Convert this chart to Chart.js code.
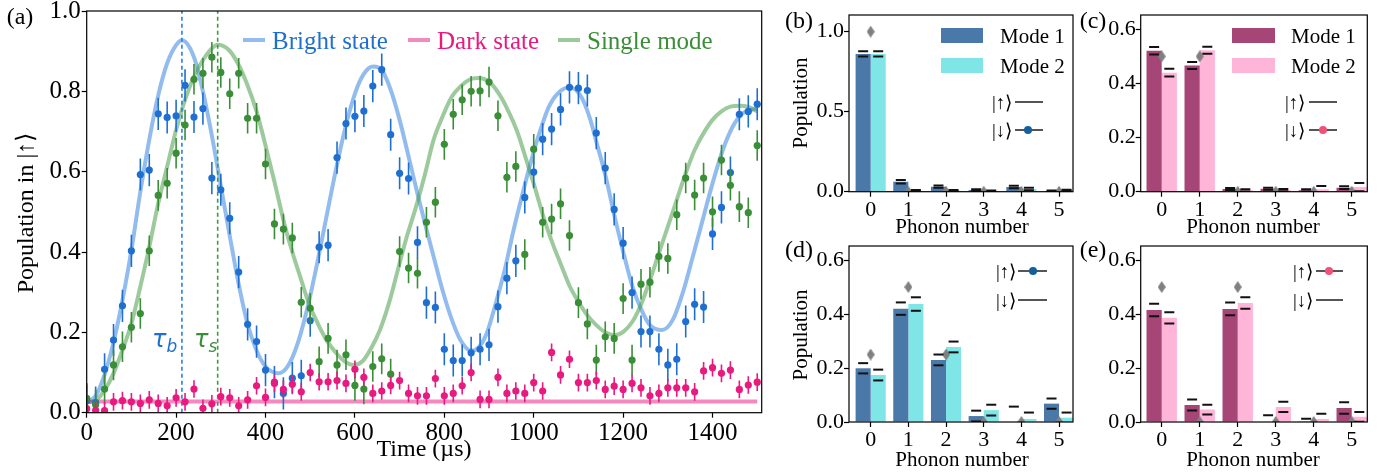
<!DOCTYPE html>
<html>
<head>
<meta charset="utf-8">
<script src="https://cdn.jsdelivr.net/npm/chart.js@4.4.1/dist/chart.umd.min.js"></script>
<style>
  html, body { margin: 0; padding: 0; background: #fff; }
  body { position: relative; width: 1382px; height: 472px; overflow: hidden; font-family: "Liberation Serif", "Times New Roman", serif; color: #000; }
  canvas { position: absolute; }
  .c { position: absolute; white-space: nowrap; line-height: 1; transform: translate(-50%, -50%); }
  .rot { transform: translate(-50%, -50%) rotate(-90deg); }
  .l { position: absolute; white-space: nowrap; line-height: 1; transform: translateY(-50%); }
  .sw { position: absolute; }
  .dot { position: absolute; width: 8px; height: 8px; border-radius: 50%; transform: translate(-50%, -50%); }
  .tau { position: absolute; white-space: nowrap; line-height: 1; font: italic 24px "DejaVu Sans", sans-serif; }
  .tau span { font-size: 17px; position: relative; top: 5px; }
  .lv { font-size: 19px; }
</style>
</head>
<body>
<canvas id="panelA"></canvas>
<canvas id="panelB"></canvas>
<canvas id="panelC"></canvas>
<canvas id="panelD"></canvas>
<canvas id="panelE"></canvas>

<!-- panel letters -->
<div class="c" style="left:20px;top:16px;font-size:24px">(a)</div>
<div class="c" style="left:799px;top:20px;font-size:24px">(b)</div>
<div class="c" style="left:1093px;top:20px;font-size:24px">(c)</div>
<div class="c" style="left:799px;top:249px;font-size:24px">(d)</div>
<div class="c" style="left:1093px;top:249px;font-size:24px">(e)</div>

<!-- axis titles -->
<div class="c rot" style="left:25px;top:213px;font-size:24px">Population in |↑⟩</div>
<div class="c" style="left:424px;top:448px;font-size:24px">Time (µs)</div>
<div class="c rot" style="left:800px;top:103px;font-size:21px">Population</div>
<div class="c rot" style="left:800px;top:335px;font-size:21px">Population</div>
<div class="c" style="left:962px;top:226px;font-size:21px">Phonon number</div>
<div class="c" style="left:1253px;top:226px;font-size:21px">Phonon number</div>
<div class="c" style="left:962px;top:459px;font-size:21px">Phonon number</div>
<div class="c" style="left:1253px;top:459px;font-size:21px">Phonon number</div>

<!-- tau markers -->
<div class="tau" style="left:152px;top:325px;color:#1f6fd1">τ<span>b</span></div>
<div class="tau" style="left:194px;top:325px;color:#3a8e37">τ<span>s</span></div>

<!-- legend (a) -->
<div class="sw" style="left:243px;top:37.5px;width:22px;height:4px;background:rgba(74,144,226,0.6)"></div>
<div class="l" style="left:272px;top:40px;font-size:25px;color:#1f6fd1">Bright state</div>
<div class="sw" style="left:408px;top:37.5px;width:22px;height:4px;background:rgba(235,40,140,0.55)"></div>
<div class="l" style="left:437px;top:40px;font-size:25px;color:#e8197f">Dark state</div>
<div class="sw" style="left:558px;top:37.5px;width:22px;height:4px;background:rgba(60,150,60,0.5)"></div>
<div class="l" style="left:587px;top:40px;font-size:25px;color:#3a8e37">Single mode</div>

<!-- legend (b) -->
<div class="sw" style="left:941px;top:28.3px;width:42.3px;height:14.4px;background:#4a78a9"></div>
<div class="l" style="left:1000px;top:36px;font-size:21px">Mode 1</div>
<div class="sw" style="left:941px;top:58.3px;width:42.3px;height:14.4px;background:#7fe5e6"></div>
<div class="l" style="left:1000px;top:66px;font-size:21px">Mode 2</div>

<!-- legend (c) -->
<div class="sw" style="left:1231.7px;top:28.3px;width:43.3px;height:14.4px;background:#a54677"></div>
<div class="l" style="left:1291px;top:36px;font-size:21px">Mode 1</div>
<div class="sw" style="left:1231.7px;top:58.3px;width:43.3px;height:14.4px;background:#ffb5d8"></div>
<div class="l" style="left:1291px;top:66px;font-size:21px">Mode 2</div>

<!-- level diagrams -->
<div class="l lv" style="left:992px;top:101.5px">|↑⟩</div>
<div class="sw" style="left:1015px;top:100.7px;width:28px;height:2px;background:#555"></div>
<div class="l lv" style="left:992px;top:130px">|↓⟩</div>
<div class="sw" style="left:1015px;top:129px;width:28px;height:2px;background:#555"></div>
<div class="dot" style="left:1028.3px;top:130px;background:#12609e"></div>

<div class="l lv" style="left:1285px;top:101.5px">|↑⟩</div>
<div class="sw" style="left:1309px;top:100.7px;width:28px;height:2px;background:#555"></div>
<div class="l lv" style="left:1285px;top:130px">|↓⟩</div>
<div class="sw" style="left:1309px;top:129px;width:28px;height:2px;background:#555"></div>
<div class="dot" style="left:1323.3px;top:130px;background:#f35078"></div>

<div class="l lv" style="left:996px;top:271px">|↑⟩</div>
<div class="sw" style="left:1018.3px;top:270px;width:28.4px;height:2px;background:#555"></div>
<div class="dot" style="left:1033.3px;top:271px;background:#12609e"></div>
<div class="l lv" style="left:996px;top:300px">|↓⟩</div>
<div class="sw" style="left:1018.3px;top:299px;width:28.4px;height:2px;background:#555"></div>

<div class="l lv" style="left:1293px;top:271px">|↑⟩</div>
<div class="sw" style="left:1316px;top:270px;width:27.3px;height:2px;background:#555"></div>
<div class="dot" style="left:1329.3px;top:271px;background:#f35078"></div>
<div class="l lv" style="left:1293px;top:300px">|↓⟩</div>
<div class="sw" style="left:1316px;top:299px;width:27.3px;height:2px;background:#555"></div>

<script>
  // ---------- panel (a) data ----------
  const timeUs = [0, 20, 40, 60, 80, 100, 120, 140, 160, 180, 200, 220, 240, 260, 280, 300, 320, 340, 360, 380,
    400, 420, 440, 460, 480, 500, 520, 540, 560, 580, 600, 620, 640, 660, 680, 700, 720, 740, 760, 780,
    800, 820, 840, 860, 880, 900, 920, 940, 960, 980, 1000, 1020, 1040, 1060, 1080, 1100, 1120, 1140, 1160, 1180,
    1200, 1220, 1240, 1260, 1280, 1300, 1320, 1340, 1360, 1380, 1400, 1420, 1440, 1460, 1480, 1500];

  const brightPop = [0.03, 0.025, 0.108, 0.181, 0.266, 0.403, 0.593, 0.604, 0.744, 0.735, 0.739, 0.815, 0.736, 0.757, 0.584, 0.555, 0.484, 0.35, 0.22, 0.177,
    0.106, 0.076, 0.048, 0.086, 0.092, 0.229, 0.412, 0.417, 0.635, 0.72, 0.738, 0.751, 0.813, 0.854, 0.692, 0.596, 0.583, 0.424, 0.274, 0.262,
    0.158, 0.13, 0.13, 0.149, 0.158, 0.169, 0.264, 0.335, 0.378, 0.536, 0.599, 0.681, 0.706, 0.755, 0.81, 0.808, 0.802, 0.696, 0.609, 0.506,
    0.422, 0.299, 0.202, 0.202, 0.158, 0.119, 0.133, 0.227, 0.27, 0.263, 0.445, 0.511, 0.598, 0.743, 0.75, 0.768];

  const singlePop = [0.036, 0.02, 0.059, 0.119, 0.164, 0.2125, 0.247, 0.403, 0.541, 0.571, 0.646, 0.716, 0.83, 0.845, 0.885, 0.847, 0.794, 0.845, 0.733, 0.733,
    0.619, 0.47, 0.457, 0.435, 0.275, 0.26, 0.127, 0.185, 0.119, 0.144, 0.068, 0.059, 0.115, 0.134, 0.096, 0.401, 0.36, 0.347, 0.474, 0.524,
    0.668, 0.743, 0.779, 0.8, 0.801, 0.823, 0.739, 0.586, 0.613, 0.394, 0.656, 0.474, 0.482, 0.52, 0.441, 0.274, 0.221, 0.131, 0.189, 0.185,
    0.284, 0.131, 0.32, 0.325, 0.389, 0.384, 0.493, 0.584, 0.542, 0.584, 0.5, 0.629, 0.566, 0.513, 0.498, 0.665];

  const darkPop = [0.01, 0.006, 0.005, 0.027, 0.03, 0.027, 0.023, 0.032, 0.023, 0.017, 0.037, 0.027, 0.059, 0.011, 0.022, 0.04, 0.037, 0.017, 0.032, 0.067,
    0.038, 0.073, 0.058, 0.071, 0.052, 0.1, 0.077, 0.077, 0.08, 0.073, 0.108, 0.088, 0.048, 0.054, 0.068, 0.08, 0.048, 0.042, 0.042, 0.085,
    0.042, 0.048, 0.067, 0.1, 0.033, 0.033, 0.088, 0.048, 0.054, 0.048, 0.075, 0.054, 0.15, 0.094, 0.133, 0.075, 0.075, 0.08, 0.058, 0.066,
    0.058, 0.073, 0.062, 0.042, 0.048, 0.062, 0.062, 0.062, 0.052, 0.104, 0.112, 0.098, 0.106, 0.058, 0.069, 0.076];

  const brightErr = 0.04;
  const singleErr = 0.038;
  const darkErr = 0.022;

  // fitted curves
  const brightFitT = [0, 20, 40, 60, 80, 100, 120, 140, 160, 180, 200, 213, 240, 260, 280, 300, 320, 340, 360, 380,
    400, 429, 450, 470, 490, 510, 530, 550, 570, 590, 610, 630, 641, 660, 680, 700, 720, 740, 757, 776,
    796, 817, 836, 860, 876, 895, 915, 935, 955, 975, 995, 1015, 1034, 1054, 1080, 1106, 1125, 1141, 1161, 1181,
    1201, 1221, 1241, 1260, 1287, 1311, 1333, 1356, 1378, 1400, 1423, 1445, 1467, 1490, 1500];
  const brightFitPop = [0.025, 0.042, 0.095, 0.175, 0.28, 0.405, 0.55, 0.68, 0.79, 0.87, 0.915, 0.927, 0.885, 0.80, 0.69, 0.565, 0.44, 0.32, 0.22, 0.155,
    0.115, 0.098, 0.116, 0.166, 0.244, 0.342, 0.452, 0.564, 0.669, 0.758, 0.823, 0.857, 0.862, 0.853, 0.804, 0.729, 0.638, 0.545, 0.47, 0.389,
    0.305, 0.231, 0.181, 0.154, 0.162, 0.198, 0.272, 0.355, 0.455, 0.545, 0.63, 0.704, 0.762, 0.795, 0.81, 0.787, 0.735, 0.671, 0.588, 0.488,
    0.397, 0.314, 0.256, 0.218, 0.206, 0.231, 0.297, 0.389, 0.48, 0.571, 0.654, 0.712, 0.745, 0.755, 0.758];

  const singleFitT = [0, 20, 40, 60, 80, 100, 120, 140, 160, 180, 200, 220, 240, 260, 280, 293, 318, 338, 358, 380,
    400, 420, 440, 460, 480, 497, 517, 537, 557, 577, 598, 617, 636, 656, 676, 696, 716, 736, 757, 776,
    796, 817, 836, 856, 876, 901, 921, 941, 963, 983, 1003, 1023, 1043, 1063, 1080, 1100, 1120, 1140, 1160, 1181,
    1201, 1221, 1241, 1260, 1280, 1300, 1320, 1340, 1360, 1380, 1400, 1420, 1440, 1460, 1480, 1500];
  const singleFitPop = [0.025, 0.03, 0.056, 0.098, 0.156, 0.222, 0.314, 0.413, 0.521, 0.613, 0.704, 0.779, 0.837, 0.878, 0.907, 0.916, 0.903, 0.87, 0.82, 0.75,
    0.665, 0.575, 0.48, 0.40, 0.33, 0.272, 0.222, 0.18, 0.15, 0.128, 0.119, 0.128, 0.16, 0.206, 0.272, 0.355, 0.438, 0.51, 0.595, 0.679,
    0.737, 0.787, 0.812, 0.829, 0.833, 0.823, 0.796, 0.756, 0.70, 0.631, 0.559, 0.483, 0.419, 0.363, 0.316, 0.276, 0.242, 0.218, 0.20, 0.193,
    0.202, 0.227, 0.272, 0.33, 0.397, 0.463, 0.53, 0.596, 0.654, 0.696, 0.729, 0.75, 0.762, 0.764, 0.761, 0.75];

  const darkFitT = [0, 1500];
  const darkFitPop = [0.028, 0.028];

  const tauB = 213;
  const tauS = 293;

  const timeTicks = [0, 200, 400, 600, 800, 1000, 1200, 1400];
  const popTicksA = [0, 0.2, 0.4, 0.6, 0.8, 1.0];

  // ---------- panels (b)-(e) data ----------
  const phononN = [0, 1, 2, 3, 4, 5];

  const bMode1 = [0.861, 0.0625, 0.031, 0.010, 0.029, 0.004];
  const bMode1Err = [0.016, 0.011, 0.007, 0.006, 0.008, 0.004];
  const bMode2 = [0.861, 0.006, 0.006, 0.004, 0.017, 0.008];
  const bMode2Err = [0.016, 0.004, 0.004, 0.004, 0.008, 0.004];
  const bTheory = [1, 0, 0, 0, 0, 0];

  const cMode1 = [0.521, 0.466, 0.010, 0.011, 0.005, 0.015];
  const cMode1Err = [0.014, 0.013, 0.004, 0.004, 0.004, 0.005];
  const cMode2 = [0.44, 0.523, 0.005, 0.006, 0.009, 0.017];
  const cMode2Err = [0.014, 0.013, 0.004, 0.004, 0.012, 0.015];
  const cTheory = [0.5, 0.5, 0, 0, 0, 0];

  const dMode1 = [0.199, 0.42, 0.23, 0.022, 0, 0.068];
  const dMode1Err = [0.019, 0.023, 0.02, 0.02, 0.057, 0.019];
  const dMode2 = [0.174, 0.437, 0.278, 0.044, 0.011, 0.016];
  const dMode2Err = [0.02, 0.025, 0.02, 0.02, 0.024, 0.019];
  const dTheory = [0.25, 0.5, 0.25, 0, 0, 0];

  const eMode1 = [0.415, 0.063, 0.419, 0, 0.003, 0.052];
  const eMode1Err = [0.023, 0.02, 0.024, 0.025, 0.009, 0.021];
  const eMode2 = [0.386, 0.046, 0.441, 0.056, 0.011, 0.019];
  const eMode2Err = [0.021, 0.018, 0.021, 0.019, 0.02, 0.018];
  const eTheory = [0.5, 0, 0.5, 0, 0, 0];

  const popTicksB = [0, 0.5, 1.0];
  const popTicksC = [0, 0.2, 0.4, 0.6];

  // ---------- helpers ----------
  const SERIF = '"Liberation Serif", "Times New Roman", serif';
  const BLUE = '#1f6fd1', GREEN = '#3a8e37', PINK = '#e8197f';
  const BLUE_FIT = 'rgba(74,144,226,0.6)', GREEN_FIT = 'rgba(60,150,60,0.5)', PINK_FIT = 'rgba(235,40,140,0.55)';

  function series(xs, ys) {
    return xs.map((x, i) => ({ x: x, y: ys[i] }));
  }

  // diamond marker (matplotlib "d" style, thin)
  function diamond(w, h, color) {
    const c = document.createElement("canvas");
    c.width = w; c.height = h;
    const g = c.getContext("2d");
    g.fillStyle = color;
    g.beginPath();
    g.moveTo(w / 2, 0); g.lineTo(w, h / 2); g.lineTo(w / 2, h); g.lineTo(0, h / 2);
    g.closePath(); g.fill();
    return c;
  }

  // sets canvas size/position and returns the layout bits so chartArea lands on 'area'
  function place(el, box, area) {
    el.width = box.w; el.height = box.h;
    el.style.left = box.x + "px"; el.style.top = box.y + "px";
    return {
      padding: { top: area.t - box.y, right: box.x + box.w - area.r, left: 0, bottom: 0 },
      yWidth: area.l - box.x,
      xHeight: box.y + box.h - area.b
    };
  }

  function xAxis(min, max, ticks, size, pad, height, fmt) {
    return {
      type: "linear", min: min, max: max, offset: false,
      afterBuildTicks: s => { s.ticks = ticks.map(v => ({ value: v })); },
      afterFit: s => { s.height = height; },
      ticks: { color: "#000", font: { family: SERIF, size: size }, padding: pad, maxRotation: 0, autoSkip: false, callback: fmt },
      grid: { offset: false, drawOnChartArea: false, drawTicks: true, tickLength: 5, tickColor: "#000", tickWidth: 1.2 },
      border: { display: false }
    };
  }

  function yAxis(min, max, ticks, size, pad, width) {
    return {
      type: "linear", min: min, max: max,
      afterBuildTicks: s => { s.ticks = ticks.map(v => ({ value: v })); },
      afterFit: s => { s.width = width; },
      ticks: { color: "#000", font: { family: SERIF, size: size, lineHeight: 1.0 }, padding: pad, autoSkip: false, callback: v => Number(v).toFixed(1) },
      grid: { drawOnChartArea: false, drawTicks: true, tickLength: 5, tickColor: "#000", tickWidth: 1.2 },
      border: { display: false }
    };
  }

  // box around the axes
  const frame = {
    id: "frame",
    afterDraw(chart) {
      const { ctx, chartArea: a } = chart;
      ctx.save();
      ctx.strokeStyle = "#000";
      ctx.lineWidth = 1.2;
      ctx.strokeRect(a.left, a.top, a.right - a.left, a.bottom - a.top);
      ctx.restore();
    }
  };

  // vertical error bars under each scatter dataset
  const errBars = {
    id: "errBars",
    beforeDatasetDraw(chart, args) {
      const ds = chart.data.datasets[args.index];
      if (ds.err === undefined) return;
      const { ctx, chartArea: a } = chart;
      const ys = chart.scales.y;
      ctx.save();
      ctx.beginPath(); ctx.rect(a.left, a.top, a.right - a.left, a.bottom - a.top); ctx.clip();
      ctx.strokeStyle = ds.backgroundColor;
      ctx.lineWidth = 1.6;
      args.meta.data.forEach((pt, i) => {
        const v = ds.data[i].y;
        ctx.beginPath();
        ctx.moveTo(pt.x, ys.getPixelForValue(v - ds.err));
        ctx.lineTo(pt.x, ys.getPixelForValue(v + ds.err));
        ctx.stroke();
      });
      ctx.restore();
    }
  };

  // black caps above/below each bar top
  const barCaps = {
    id: "barCaps",
    afterDatasetsDraw(chart) {
      const { ctx, chartArea: a } = chart;
      const ys = chart.scales.y;
      ctx.save();
      ctx.beginPath(); ctx.rect(a.left, a.top, a.right - a.left, a.bottom - a.top); ctx.clip();
      ctx.strokeStyle = "#111";
      ctx.lineWidth = 2;
      chart.data.datasets.forEach((ds, k) => {
        if (!ds.errs) return;
        chart.getDatasetMeta(k).data.forEach((bar, i) => {
          const v = ds.data[i].y;
          [-1, 1].forEach(s => {
            const py = ys.getPixelForValue(v + s * ds.errs[i]);
            ctx.beginPath();
            ctx.moveTo(bar.x - 5, py);
            ctx.lineTo(bar.x + 5, py);
            ctx.stroke();
          });
        });
      });
      ctx.restore();
    }
  };

  const common = {
    responsive: false,
    animation: false,
    events: [],
    plugins: { legend: { display: false }, tooltip: { enabled: false } }
  };

  // ---------- panel (a) ----------
  (function () {
    const el = document.getElementById("panelA");
    const lay = place(el, { x: 0, y: -20, w: 772, h: 492 }, { l: 86.7, t: 11, r: 761.7, b: 412.7 });

    const fit = (xs, ys, color, order) => ({
      type: "line", data: series(xs, ys), borderColor: color, borderWidth: 4,
      pointRadius: 0, cubicInterpolationMode: "monotone", fill: false, order: order
    });
    const vline = (x, color) => ({
      type: "line", data: [{ x: x, y: 0 }, { x: x, y: 1 }], borderColor: color, borderWidth: 1.6,
      borderDash: [4, 3], pointRadius: 0, fill: false, order: 8
    });
    const pts = (ys, color, err, order) => ({
      type: "scatter", data: series(timeUs, ys), backgroundColor: color, borderWidth: 0,
      pointRadius: 3.6, err: err, order: order
    });

    new Chart(el, {
      type: "scatter",
      data: {
        datasets: [
          pts(darkPop, PINK, darkErr, 1),
          pts(singlePop, GREEN, singleErr, 2),
          pts(brightPop, BLUE, brightErr, 3),
          vline(tauB, "#2a7fe0"),
          vline(tauS, "#3c9a40"),
          fit(darkFitT, darkFitPop, PINK_FIT, 10),
          fit(singleFitT, singleFitPop, GREEN_FIT, 11),
          fit(brightFitT, brightFitPop, BLUE_FIT, 12)
        ]
      },
      options: Object.assign({}, common, {
        layout: { padding: lay.padding },
        scales: {
          x: xAxis(0, 1510, timeTicks, 25, 1, lay.xHeight, v => String(v)),
          y: yAxis(0, 1, popTicksA, 25, 1, lay.yWidth)
        }
      }),
      plugins: [errBars, frame]
    });
  })();

  // ---------- panels (b)-(e) ----------
  const grayDiamond = diamond(8, 12, "#808080");

  function barPanel(id, box, area, xr, m1, e1, m2, e2, theory, colors, yMax, yTicks, yPad) {
    const el = document.getElementById(id);
    const lay = place(el, box, area);
    new Chart(el, {
      type: "bar",
      data: {
        datasets: [
          {
            type: "line", data: series(phononN, theory), showLine: false,
            pointStyle: grayDiamond, pointRadius: 6, clip: 0, order: 0
          },
          { type: "bar", data: series(phononN, m1), errs: e1, backgroundColor: colors[0], borderWidth: 0, categoryPercentage: 0.8, barPercentage: 1.0, order: 1 },
          { type: "bar", data: series(phononN, m2), errs: e2, backgroundColor: colors[1], borderWidth: 0, categoryPercentage: 0.8, barPercentage: 1.0, order: 2 }
        ]
      },
      options: Object.assign({}, common, {
        layout: { padding: lay.padding },
        scales: {
          x: xAxis(xr[0], xr[1], phononN, 22, 0, lay.xHeight, v => String(v)),
          y: yAxis(0, yMax, yTicks, 22, yPad, lay.yWidth)
        }
      }),
      plugins: [barCaps, frame]
    });
  }

  const blueBars = ["#4a78a9", "#7fe5e6"];
  const pinkBars = ["#a54677", "#ffb5d8"];

  barPanel("panelB", { x: 775, y: -20, w: 305, h: 256 }, { l: 849, t: 15, r: 1073.3, b: 191.7 }, [-0.575, 5.37],
    bMode1, bMode1Err, bMode2, bMode2Err, bTheory, blueBars, 1.104, popTicksB, 0);
  barPanel("panelC", { x: 1080, y: -20, w: 302, h: 256 }, { l: 1140.7, t: 15, r: 1367.3, b: 191.7 }, [-0.553, 5.41],
    cMode1, cMode1Err, cMode2, cMode2Err, cTheory, pinkBars, 0.653, popTicksC, 0);
  barPanel("panelD", { x: 775, y: 216, w: 305, h: 256 }, { l: 849, t: 246, r: 1073.3, b: 422 }, [-0.575, 5.37],
    dMode1, dMode1Err, dMode2, dMode2Err, dTheory, blueBars, 0.652, popTicksC, 0);
  barPanel("panelE", { x: 1080, y: 216, w: 302, h: 256 }, { l: 1140.7, t: 246, r: 1367.3, b: 422 }, [-0.553, 5.41],
    eMode1, eMode1Err, eMode2, eMode2Err, eTheory, pinkBars, 0.652, popTicksC, 0);
</script>
</body>
</html>
